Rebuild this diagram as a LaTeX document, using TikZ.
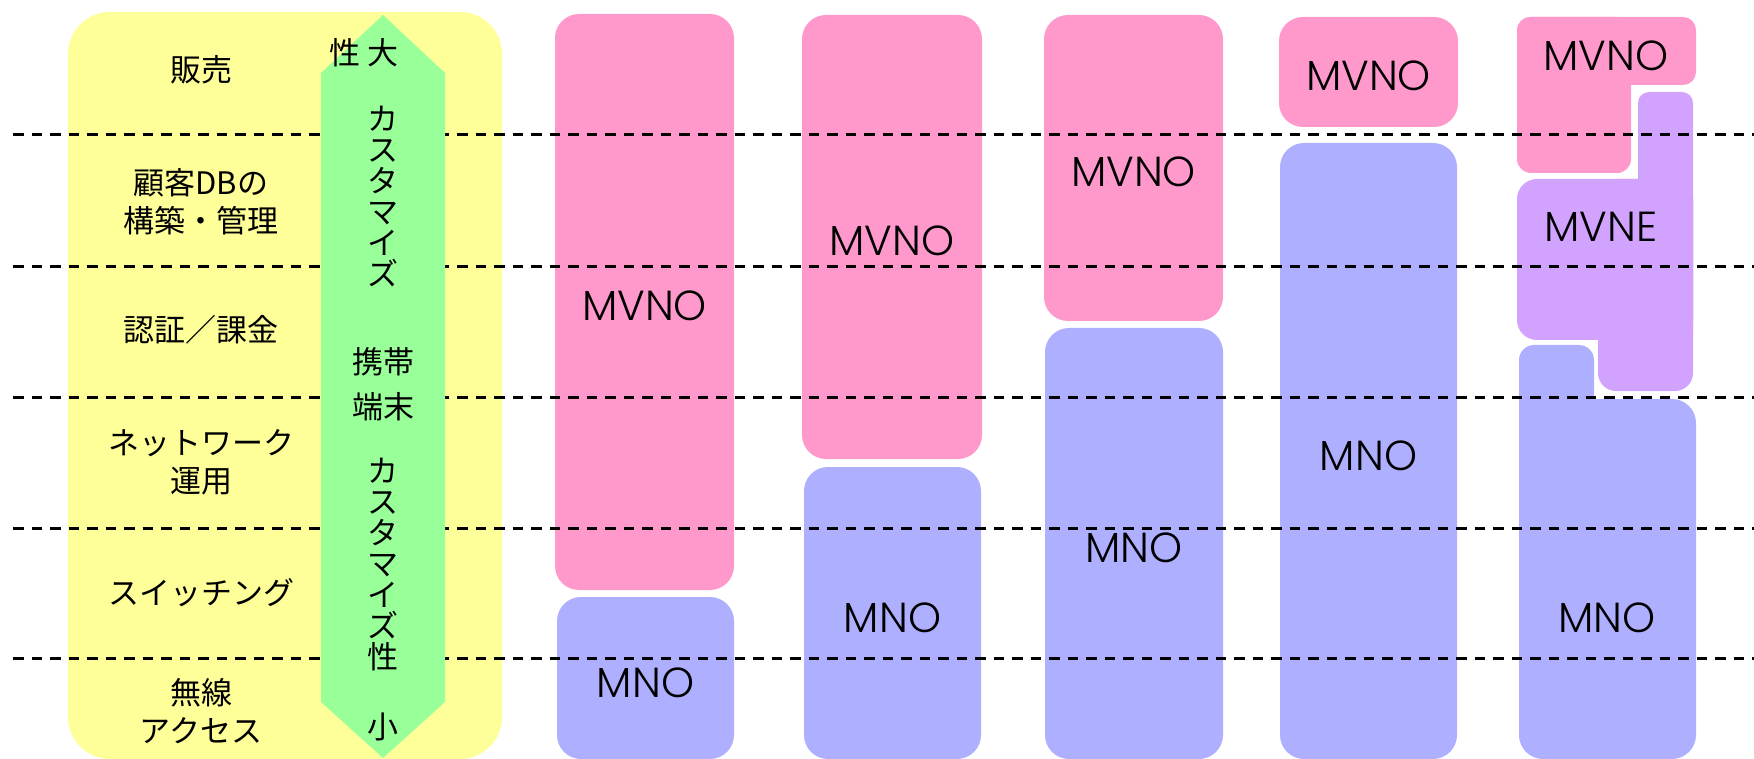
\documentclass[tikz,border=0pt]{standalone}
\usepackage{fontspec}
\setmainfont{Noto Sans CJK JP}
\newfontfamily\latinfont{Poppins}[UprightFont={* Light}]
\definecolor{ylw}{RGB}{255,255,153}
\definecolor{grn}{RGB}{153,255,153}
\definecolor{pnk}{RGB}{255,153,204}
\definecolor{blu}{RGB}{175,175,255}
\definecolor{prp}{RGB}{210,162,255}
\tikzset{
  box/.style={rounded corners=24pt, inner sep=0pt, draw=none, text height=38pt, text depth=0pt, font=\latinfont\fontsize{42}{42}\selectfont},
  pinkbox/.style={box, fill=pnk},
  bluebox/.style={box, fill=blu},
  lbl/.style={font=\latinfont\fontsize{42}{42}\selectfont, inner sep=0pt},
  jp/.style={font=\fontsize{31}{38}\selectfont, align=center, inner sep=0pt},
  vstack/.style={font=\fontsize{31}{31}\selectfont, align=center, inner sep=0pt},
  sepline/.style={draw=black, line width=3pt, dash pattern=on 10.5pt off 8pt}
}
\begin{document}
\begin{tikzpicture}[x=1pt,y=-1pt]
\useasboundingbox (0,0) rectangle (1754,759);
% yellow panel
\fill[ylw, rounded corners=42pt] (68,12) rectangle (502,759);
% columns 1-4
\node[pinkbox, minimum width=179pt, minimum height=576pt] (c1mvno) at (644.5,302) {MVNO};
\node[bluebox, minimum width=177pt, minimum height=162pt] (c1mno) at (645.5,678) {MNO};
\node[pinkbox, minimum width=180pt, minimum height=444pt] (c2mvno) at (892,237) {MVNO};
\node[bluebox, minimum width=177pt, minimum height=292pt] (c2mno) at (892.5,613) {MNO};
\node[pinkbox, minimum width=179pt, minimum height=306pt] (c3mvno) at (1133.5,168) {MVNO};
\node[bluebox, minimum width=178pt, minimum height=431pt] (c3mno) at (1134,543.5) {MNO};
\node[pinkbox, minimum width=179pt, minimum height=110pt] (c4mvno) at (1368.5,72) {MVNO};
\node[bluebox, minimum width=177pt, minimum height=616pt] (c4mno) at (1368.5,451) {MNO};
% column 5
\fill[pnk, rounded corners=13pt] (1517,17) rectangle (1696,85);
\fill[pnk, rounded corners=14pt] (1517,17) rectangle (1631,173);
\fill[prp, rounded corners=11pt] (1638,92) rectangle (1693,345);
\fill[prp, rounded corners=20pt] (1517,179) rectangle (1693,340);
\fill[prp, rounded corners=18pt] (1598,179) rectangle (1693,391);
\fill[blu, rounded corners=15pt] (1519,345) rectangle (1594,500);
\fill[blu, rounded corners=24pt] (1519,399) rectangle (1696,759);
\node[lbl] (c5mvno) at (1606,56) {MVNO};
\node[lbl] (c5mvne) at (1601,227) {MVNE};
\node[lbl] (c5mno) at (1607,618) {MNO};
% dashed separators
\foreach \yy in {135,267,397,528,658} {
  \draw[sepline] (13,\yy) -- (1754,\yy);
}
% green arrow
\fill[grn] (321,73) -- (383,15) -- (445,73) -- (445,702) -- (383,758) -- (321,702) -- cycle;
\node[jp] (sei1) at (345,53) {性};
\node[jp] (dai) at (383,53) {大};
\node[vstack] (kasu1) at (383,196.5) {カ\\ス\\タ\\マ\\イ\\ズ};
\node[font=\fontsize{31}{45}\selectfont, align=center, inner sep=0pt] (keitai) at (383,384.5) {携帯\\端末};
\node[vstack] (kasu2) at (383,564.5) {カ\\ス\\タ\\マ\\イ\\ズ\\性};
\node[jp] (sho) at (383,727) {小};
% left labels
\node[jp] (hanbai) at (201,70) {販売};
\node[jp] (kokyaku) at (201,201.5) {顧客DBの\\構築・管理};
\node[jp] (ninsho) at (201,330) {認証／課金};
\node[jp] (network) at (201,462) {ネットワーク\\運用};
\node[jp] (switching) at (201,593) {スイッチング};
\node[jp] (musen) at (201,711) {無線\\アクセス};
\end{tikzpicture}
\end{document}
